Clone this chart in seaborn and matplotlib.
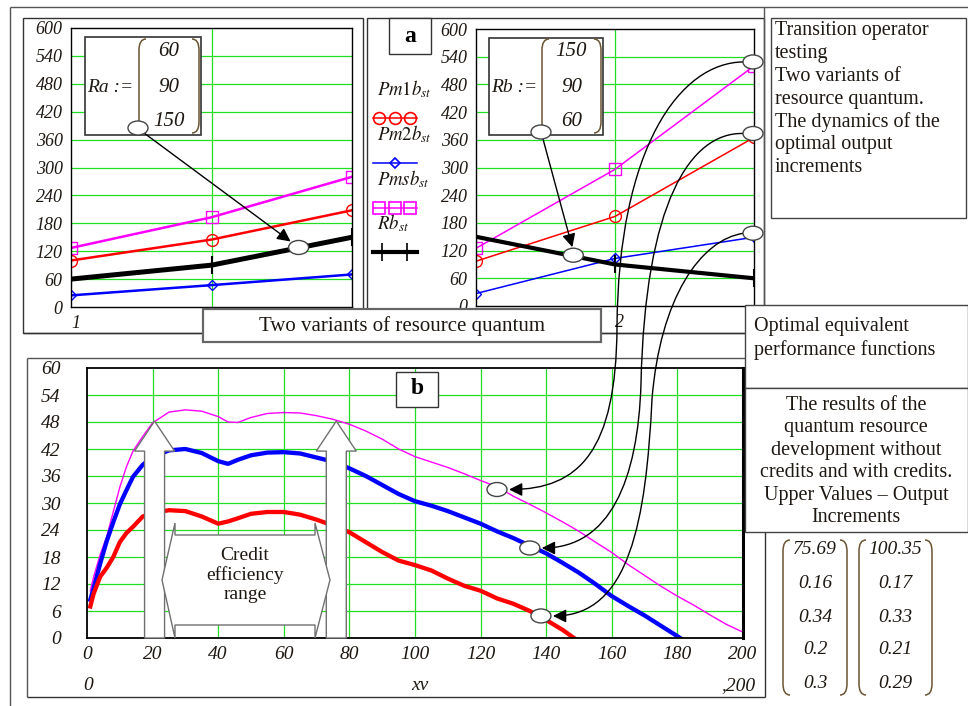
import matplotlib
matplotlib.use("Agg")
import matplotlib.pyplot as plt
import seaborn as sns
from matplotlib.patches import Rectangle, Ellipse, Polygon, FancyArrowPatch, PathPatch
from matplotlib.path import Path

W, H = 968, 706

# panel a: two variants of the resource quantum
steps = [1, 2, 3]
ra = [60, 90, 150]
pm1_a = [100, 145, 208]
pm2_a = [25, 47, 70]
pms_a = [127, 193, 280]
rb = [150, 90, 60]
pm1_b = [97, 194, 365]
pm2_b = [27, 103, 149]
pms_b = [125, 296, 520]

# panel b: optimal equivalent performance functions
xv = [1, 2, 4, 6, 8, 10, 12, 14, 17, 20, 25, 30, 35, 40, 43, 46, 50, 55, 60, 65,
      70, 75, 80, 85, 90, 95, 100, 105, 110, 115, 120, 125, 130, 135, 140, 145,
      150, 155, 160, 165, 170, 175, 180, 185, 190, 195, 200]
pm1_curve = [7.0, 9.8, 13.6, 15.6, 18.0, 21.3, 23.3, 24.7, 27.0, 27.8, 28.4, 28.2,
             27.0, 25.4, 25.9, 26.6, 27.6, 28.0, 28.0, 27.4, 26.3, 25.0, 23.5, 21.3,
             19.1, 17.2, 16.2, 15.0, 13.2, 11.6, 10.5, 8.8, 7.6, 6.0, 4.0, 1.8, -0.8]
pm2_curve = [8.5, 11.0, 16.5, 21.5, 25.7, 29.7, 32.8, 35.8, 38.5, 40.2, 41.7, 42.0,
             41.1, 39.3, 38.7, 39.6, 40.6, 41.2, 41.3, 41.0, 40.1, 39.2, 37.7, 36.0,
             34.0, 32.0, 30.4, 29.4, 28.2, 26.8, 25.4, 23.7, 22.2, 20.5, 18.8, 16.7,
             14.5, 12.0, 9.3, 7.1, 5.0, 2.7, 0.4, -2.0]
pms_curve = [10.5, 13.5, 18.5, 22.5, 28.0, 33.5, 38.0, 41.5, 44.8, 47.8, 50.2, 50.7,
             50.4, 49.2, 48.0, 47.9, 49.0, 49.9, 50.1, 50.0, 49.4, 48.6, 47.5, 46.0,
             44.2, 42.0, 40.3, 39.1, 37.9, 36.5, 35.0, 33.6, 31.5, 29.7, 27.8, 25.8,
             23.7, 21.3, 19.0, 16.3, 13.9, 11.5, 9.3, 7.3, 5.1, 3.0, 1.3]

# results matrix (without credits / with credits)
res_plain = ['75.69', '0.16', '0.34', '0.2', '0.3']
res_credit = ['100.35', '0.17', '0.33', '0.21', '0.29']

RED, BLUE, MAG = '#ff0000', '#0000ff', '#ff00ff'
GRID = '#22dd22'
EDGE = '#555555'
TXT = '#1e1812'
BRK = '#6a5432'
FS = 14.5

plt.rcParams['font.family'] = ['Liberation Serif', 'DejaVu Serif']
plt.rcParams['mathtext.fontset'] = 'stix'

fig = plt.figure(figsize=(W / 100, H / 100), dpi=100)


def frac(x0, y0, x1, y1):
    return [x0 / W, 1 - y1 / H, (x1 - x0) / W, (y1 - y0) / H]


def overlay(z):
    ax = fig.add_axes([0, 0, 1, 1], zorder=z)
    ax.set_xlim(0, W)
    ax.set_ylim(H, 0)
    ax.axis('off')
    return ax


bg = overlay(0)
ax_l = fig.add_axes(frac(71, 28, 352, 307), zorder=2)
ax_r = fig.add_axes(frac(476, 29, 754, 306), zorder=2)
ax_b = fig.add_axes(frac(87, 368, 743, 638), zorder=2)
fg = overlay(10)


def series(ax, y, color, lw, marker, ms, mew=1.0):
    sns.lineplot(x=steps, y=y, ax=ax, color=color, lw=lw, marker=marker,
                 markersize=ms, markerfacecolor='none', markeredgecolor=color,
                 markeredgewidth=mew)


# ---- panel a, both variants
for ax in (ax_l, ax_r):
    for y in range(60, 600, 60):
        ax.axhline(y, color=GRID, lw=0.9, zorder=0)
    ax.axvline(2, color=GRID, lw=0.9, zorder=0)

series(ax_l, pms_a, MAG, 1.8, 's', 8)
series(ax_l, pm1_a, RED, 1.8, 'o', 8.5)
series(ax_l, pm2_a, BLUE, 1.8, 'D', 5.5)
series(ax_l, ra, 'black', 3.6, '|', 13, 1.5)

series(ax_r, pms_b, MAG, 1.1, 's', 8)
series(ax_r, pm1_b, RED, 1.1, 'o', 8.5)
series(ax_r, pm2_b, BLUE, 1.1, 'D', 5.5)
series(ax_r, rb, 'black', 3.0, '|', 13, 1.5)

for ax, xt in ((ax_l, 1), (ax_r, 2)):
    ax.set_xlim(1, 3)
    ax.set_ylim(0, 600)
    ax.set_yticks(range(0, 601, 60), labels=[str(v) for v in range(0, 601, 60)],
                  fontstyle='italic', fontsize=13, color=TXT)
    ax.set_xticks([xt], labels=[str(xt)], fontstyle='italic', fontsize=13,
                  color=TXT, ha='left')
    ax.tick_params(length=0, pad=6)
    ax.set_xlabel('')
    ax.set_ylabel('')
    for s in ax.spines.values():
        s.set_linewidth(1.0)

# ---- panel b
for y in range(6, 60, 6):
    ax_b.axhline(y, color=GRID, lw=0.9, zorder=0)
for x in range(20, 200, 20):
    ax_b.axvline(x, color=GRID, lw=0.9, zorder=0)

sns.lineplot(x=xv, y=pms_curve, ax=ax_b, color=MAG, lw=1.0)
sns.lineplot(x=xv[:len(pm2_curve)], y=pm2_curve, ax=ax_b, color=BLUE, lw=3.1)
sns.lineplot(x=xv[:len(pm1_curve)], y=pm1_curve, ax=ax_b, color=RED, lw=3.1)

ax_b.set_xlim(0, 200)
ax_b.set_ylim(0, 60)
ax_b.set_xticks(range(0, 201, 20), labels=[str(v) for v in range(0, 201, 20)],
                fontstyle='italic', fontsize=14, color=TXT)
ax_b.set_yticks(range(0, 61, 6), labels=[str(v) for v in range(0, 61, 6)],
                fontstyle='italic', fontsize=14, color=TXT)
ax_b.tick_params(axis='y', length=0, pad=19)
ax_b.tick_params(axis='x', length=0, pad=6)
ax_b.set_xlabel('')
ax_b.set_ylabel('')
for s in ax_b.spines.values():
    s.set_linewidth(1.3)
ax_b.spines['right'].set_linewidth(2.2)


def px(ax, x, y):
    X, Y = ax.transData.transform((x, y))
    return X, H - Y


# ---- background frames
def seg(ax, x0, y0, x1, y1, c=EDGE, lw=1.0):
    ax.plot([x0, x1], [y0, y1], color=c, lw=lw, solid_capstyle='butt')


def box(ax, x0, y0, x1, y1, lw=1.0, fc='white', ec=EDGE):
    ax.add_patch(Rectangle((x0, y0), x1 - x0, y1 - y0, fc=fc, ec=ec, lw=lw))


seg(bg, 10, 7, W, 7)
seg(bg, 10, 7, 10, H)
box(bg, 23, 18, 363, 333, fc='none', ec='#333333')
box(bg, 367, 18, 764, 333, fc='none', ec='#333333')
seg(bg, 764, 7, 764, 305)
seg(bg, 23, 333, 745, 333, c='#333333')
seg(bg, 27, 358, 745, 358)
seg(bg, 27, 358, 27, 697)
seg(bg, 27, 697, 765, 697, c='#333333')
seg(bg, 765, 532, 765, 697, c='#333333')

# ---- foreground boxes and texts
box(fg, 771, 18, 966, 218, ec='#444444')
for i, line in enumerate(['Transition operator', 'testing', 'Two variants of',
                          'resource quantum.', 'The dynamics of the',
                          'optimal output', 'increments']):
    fg.text(775, 31 + 22.8 * i, line, fontsize=FS, color=TXT, va='center')

box(fg, 745, 305, 968, 388, ec='#444444')
fg.text(754, 327, 'Optimal equivalent', fontsize=FS, color=TXT, va='center')
fg.text(754, 350, 'performance functions', fontsize=FS, color=TXT, va='center')

box(fg, 745, 388, 968, 532, ec='#444444')
for i, line in enumerate(['The results of the', 'quantum resource',
                          'development without', 'credits and with credits.',
                          'Upper Values \u2013 Output', 'Increments']):
    fg.text(856, 405 + 22.6 * i, line, fontsize=FS, color=TXT, va='center', ha='center')

box(fg, 203, 309, 601, 342, lw=1.6, ec='#666666')
fg.text(402, 326, 'Two variants of resource quantum', fontsize=15, color=TXT,
        ha='center', va='center')

box(fg, 389, 18, 431, 54, ec='#333333')
fg.text(410, 36, 'a', fontsize=17, fontweight='bold', ha='center', va='center')
box(fg, 396, 372, 438, 407, ec='#333333')
fg.text(417, 389, 'b', fontsize=17, fontweight='bold', ha='center', va='center')


def paren(ax, x, y0, y1, left=True, r=7):
    d = r if left else -r
    verts = [(x + d, y0), (x, y0), (x, y0 + 1.6 * r), (x, y1 - 1.6 * r), (x, y1), (x + d, y1)]
    codes = [Path.MOVETO, Path.CURVE3, Path.CURVE3, Path.LINETO, Path.CURVE3, Path.CURVE3]
    ax.add_patch(PathPatch(Path(verts, codes), fill=False, ec=BRK, lw=1.1))


def matrix(ax, x0, x1, y0, y1, vals, ys, fs):
    paren(ax, x0, y0, y1, True)
    paren(ax, x1, y0, y1, False)
    for v, y in zip(vals, ys):
        ax.text((x0 + x1) / 2, y, v, fontsize=fs, fontstyle='italic', color=TXT,
                ha='center', va='center')


# Ra / Rb definitions inside panel a
box(fg, 85, 37, 201, 135, lw=1.2, ec='#333333')
fg.text(87, 87, 'Ra :=', fontsize=14, fontstyle='italic', color=TXT, va='center')
matrix(fg, 139, 199, 39, 133, [str(v) for v in ra], [52, 87, 121], 15)
box(fg, 489, 38, 603, 135, lw=1.2, ec='#333333')
fg.text(491, 87, 'Rb :=', fontsize=14, fontstyle='italic', color=TXT, va='center')
matrix(fg, 542, 601, 39, 133, [str(v) for v in rb], [52, 87, 121], 15)

# results matrix
matrix(fg, 783, 847, 540, 695, res_plain, [550, 583, 617, 649, 683], 14)
matrix(fg, 859, 932, 540, 695, res_credit, [550, 583, 617, 649, 683], 14)

# legend of panel a
leg = [(r'$Pm1b_{st}$', 95, RED, 'o', 8.5, 1.1),
       (r'$Pm2b_{st}$', 140, BLUE, 'D', 5.5, 1.1),
       (r'$Pmsb_{st}$', 185, MAG, 's', 8, 1.1),
       (r'$Rb_{st}$', 229, 'black', '|', 13, 3.0)]
for lab, yb, c, m, ms, lw in leg:
    fg.text(377, yb, lab, fontsize=13.5, color=TXT, va='baseline')
    yl = yb + 23
    fg.plot([373, 417], [yl, yl], color=c, lw=lw)
    mx = [395] if m == 'D' else ([382, 407] if m == '|' else [379, 395, 410])
    fg.plot(mx, [yl] * len(mx), ls='none', marker=m, ms=ms, mfc='none', mec=c, mew=1.2)

# panel b extra axis labels
fg.text(88, 686, '0', fontsize=14, fontstyle='italic', color=TXT, ha='center', va='center')
fg.text(420, 686, 'xv', fontsize=14, fontstyle='italic', color=TXT, ha='center', va='center')
fg.text(755, 686, ',200', fontsize=14, fontstyle='italic', color=TXT, ha='right', va='center')


# ---- credit efficiency range: hollow arrows
def up_arrow(ax, cx, tip_y, base_y, shaft=10, head=20, head_len=30):
    pts = [(cx - shaft, base_y), (cx - shaft, tip_y + head_len), (cx - head, tip_y + head_len),
           (cx, tip_y), (cx + head, tip_y + head_len), (cx + shaft, tip_y + head_len),
           (cx + shaft, base_y)]
    ax.add_patch(Polygon(pts, closed=True, fc='white', ec='#707070', lw=1.0))


base = px(ax_b, 0, 0)[1]
for xt in (20.6, 76.0):
    cx, ty = px(ax_b, xt, 48.2)
    up_arrow(fg, cx, ty, base)

fg.add_patch(Polygon([(162, 580), (175, 523), (175, 535), (315, 535), (315, 523), (330, 580),
                      (315, 638), (315, 625), (175, 625), (175, 638)],
                     closed=True, fc='white', ec='#707070', lw=1.0))
fg.text(245, 575, 'Credit\nefficiency\nrange', fontsize=14, color=TXT, ha='center',
        va='center', linespacing=1.15)


# ---- ovals and connectors
def oval(ax, x, y):
    ax.add_patch(Ellipse((x, y), 20, 14, fc='white', ec='#444444', lw=1.0, zorder=6))


def arrow(ax, a, b):
    ax.add_patch(FancyArrowPatch(a, b, arrowstyle='-|>', mutation_scale=20, color='black',
                                 lw=1.0, shrinkA=0, shrinkB=0, zorder=5))


def curve_arrow(ax, start, segs):
    verts, codes = [start], [Path.MOVETO]
    for s in segs:
        verts += s
        codes += [Path.CURVE4] * 3
    ax.add_patch(FancyArrowPatch(path=Path(verts, codes), arrowstyle='-|>', mutation_scale=20,
                                 color='black', lw=1.0, zorder=5))


oval(fg, 138, 128)
ox, oy = px(ax_l, 2.62, 128)
arrow(fg, (144, 133), (ox - 8, oy - 6))
oval(fg, ox, oy)

oval(fg, 541, 132)
ox, oy = px(ax_r, 1.70, 110)
arrow(fg, (543, 139), (ox - 1, oy - 8))
oval(fg, ox, oy)

tops = [px(ax_r, 3, v) for v in (pms_b[-1], pm1_b[-1], pm2_b[-1])]
ends = [px(ax_b, 125, 33.0), px(ax_b, 135, 20.0), px(ax_b, 138.4, 4.9)]
# control points of each connector: first leg (dx-free x, dy from the oval), second leg
shapes = [
    [[(680, 0), (618, 86), (617, 266)], [(616, 450), (580, None), None]],
    [[(690, -2), (645, 70), (641, 250)], [(638, 480), (610, None), None]],
    [[(700, 6), (660, 66), (652, 166)], [(646, 520), (630, None), None]],
]
for (tx, ty), (ex, ey), sh in zip(tops, ends, shapes):
    ty -= 4
    s = (tx - 10, ty)
    (c1x, c1d), (c2x, c2d), (mx, md) = sh[0]
    mid = (mx, ty + md)
    seg1 = [(c1x, ty + c1d), (c2x, ty + c2d), mid]
    (d1x, d1y), (d2x, _), _ = sh[1]
    seg2 = [(d1x, d1y), (d2x, ey), (ex + 12, ey)]
    curve_arrow(fg, s, [seg1, seg2])
    oval(fg, tx - 1, ty)
    oval(fg, ex, ey)

fig.savefig('out.png', dpi=100)
